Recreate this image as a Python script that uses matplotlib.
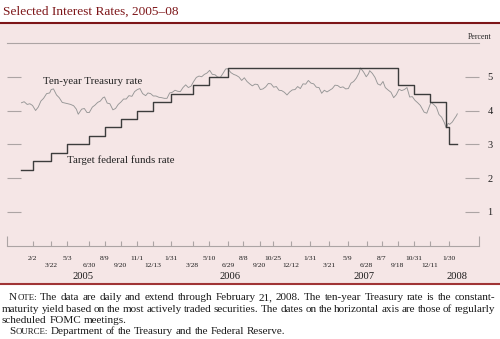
import numpy as np
import pandas as pd
import matplotlib
matplotlib.use("Agg")
import matplotlib.pyplot as plt
from matplotlib.patches import Rectangle
from matplotlib.lines import Line2D
from matplotlib.transforms import IdentityTransform

SERIF = ["Liberation Serif", "DejaVu Serif"]

# --- Datos ---
tsy_dates = [
    "2005-01-03", "2005-01-10", "2005-01-18", "2005-01-25", "2005-02-01", "2005-02-09",
    "2005-02-16", "2005-02-23", "2005-03-02", "2005-03-10", "2005-03-18", "2005-03-22",
    "2005-03-28", "2005-04-05", "2005-04-12", "2005-04-20", "2005-04-28", "2005-05-05",
    "2005-05-12", "2005-05-20", "2005-05-27", "2005-06-01", "2005-06-10", "2005-06-17",
    "2005-06-24", "2005-06-30", "2005-07-08", "2005-07-15", "2005-07-22", "2005-07-29",
    "2005-08-05", "2005-08-09", "2005-08-16", "2005-08-23", "2005-08-31", "2005-09-07",
    "2005-09-14", "2005-09-21", "2005-09-28", "2005-10-05", "2005-10-12", "2005-10-20",
    "2005-10-27", "2005-11-03", "2005-11-10", "2005-11-17", "2005-11-25", "2005-12-01",
    "2005-12-08", "2005-12-15", "2005-12-22", "2005-12-30",
    "2006-01-06", "2006-01-13", "2006-01-20", "2006-01-27", "2006-02-03", "2006-02-10",
    "2006-02-17", "2006-02-24", "2006-03-03", "2006-03-10", "2006-03-17", "2006-03-24",
    "2006-03-31", "2006-04-07", "2006-04-14", "2006-04-21", "2006-04-28", "2006-05-05",
    "2006-05-12", "2006-05-19", "2006-05-26", "2006-06-02", "2006-06-09", "2006-06-16",
    "2006-06-23", "2006-06-28", "2006-07-07", "2006-07-14", "2006-07-21", "2006-07-28",
    "2006-08-04", "2006-08-11", "2006-08-18", "2006-08-25", "2006-09-01", "2006-09-08",
    "2006-09-15", "2006-09-22", "2006-09-29", "2006-10-06", "2006-10-13", "2006-10-20",
    "2006-10-27", "2006-11-03", "2006-11-10", "2006-11-17", "2006-11-24", "2006-12-01",
    "2006-12-08", "2006-12-15", "2006-12-22", "2006-12-29",
    "2007-01-05", "2007-01-12", "2007-01-19", "2007-01-26", "2007-02-02", "2007-02-09",
    "2007-02-16", "2007-02-23", "2007-03-02", "2007-03-09", "2007-03-16", "2007-03-23",
    "2007-03-30", "2007-04-06", "2007-04-13", "2007-04-20", "2007-04-27", "2007-05-04",
    "2007-05-11", "2007-05-18", "2007-05-25", "2007-06-01", "2007-06-08", "2007-06-12",
    "2007-06-20", "2007-06-27", "2007-07-03", "2007-07-06", "2007-07-13", "2007-07-20",
    "2007-07-27", "2007-08-03", "2007-08-10", "2007-08-16", "2007-08-23", "2007-08-31",
    "2007-09-07", "2007-09-14", "2007-09-21", "2007-09-28", "2007-10-05", "2007-10-12",
    "2007-10-19", "2007-10-26", "2007-11-02", "2007-11-09", "2007-11-16", "2007-11-23",
    "2007-11-26", "2007-12-03", "2007-12-10", "2007-12-14", "2007-12-21", "2007-12-28",
    "2008-01-04", "2008-01-11", "2008-01-18", "2008-01-23", "2008-01-28", "2008-02-01",
    "2008-02-08", "2008-02-13", "2008-02-19", "2008-02-21",
]
tsy_rates = [
    4.23, 4.26, 4.18, 4.20, 4.15, 4.00, 4.10, 4.28, 4.36, 4.50, 4.52, 4.62,
    4.64, 4.46, 4.38, 4.24, 4.22, 4.20, 4.18, 4.14, 4.04, 3.89, 4.04, 4.06,
    3.94, 3.94, 4.10, 4.16, 4.24, 4.28, 4.38, 4.40, 4.22, 4.20, 4.02, 4.06,
    4.18, 4.25, 4.34, 4.34, 4.44, 4.42, 4.56, 4.62, 4.65, 4.50, 4.44, 4.52,
    4.50, 4.43, 4.43, 4.39,
    4.38, 4.36, 4.36, 4.52, 4.54, 4.60, 4.57, 4.56, 4.68, 4.76, 4.68, 4.72,
    4.86, 4.98, 5.02, 5.00, 5.07, 5.11, 5.19, 5.07, 5.06, 4.99, 4.98, 5.10,
    5.23, 5.24, 5.12, 5.07, 5.04, 4.99, 4.89, 4.97, 4.86, 4.79, 4.73, 4.78,
    4.77, 4.62, 4.64, 4.70, 4.80, 4.79, 4.69, 4.71, 4.60, 4.59, 4.54, 4.46,
    4.55, 4.61, 4.62, 4.71,
    4.65, 4.79, 4.78, 4.89, 4.81, 4.79, 4.69, 4.68, 4.51, 4.60, 4.55, 4.60,
    4.65, 4.75, 4.74, 4.68, 4.70, 4.64, 4.65, 4.81, 4.86, 4.96, 5.11, 5.26,
    5.14, 5.00, 5.09, 5.18, 5.10, 4.98, 4.79, 4.75, 4.86, 4.68, 4.61, 4.54,
    4.38, 4.47, 4.63, 4.59, 4.62, 4.68, 4.40, 4.41, 4.30, 4.23, 4.15, 4.01,
    3.95, 3.92, 4.13, 4.24, 4.18, 4.10,
    3.88, 3.80, 3.64, 3.48, 3.62, 3.59, 3.66, 3.75, 3.85, 3.90,
]

ff_dates = [
    "2005-01-03", "2005-02-02", "2005-03-22", "2005-05-03", "2005-06-30", "2005-08-09",
    "2005-09-20", "2005-11-01", "2005-12-13", "2006-01-31", "2006-03-28", "2006-05-10",
    "2006-06-29", "2007-09-18", "2007-10-31", "2007-12-11", "2008-01-22", "2008-01-30",
    "2008-02-21",
]
ff_rates = [2.25, 2.50, 2.75, 3.00, 3.25, 3.50, 3.75, 4.00, 4.25, 4.50, 4.75, 5.00,
            5.25, 4.75, 4.50, 4.25, 3.50, 3.00, 3.00]

# fechas FOMC (dos filas de etiquetas)
fomc_row1 = ["2005-02-02", "2005-05-03", "2005-08-09", "2005-11-01", "2006-01-31",
             "2006-05-10", "2006-08-08", "2006-10-25", "2007-01-31", "2007-05-09",
             "2007-08-07", "2007-10-31", "2008-01-30"]
fomc_row2 = ["2005-03-22", "2005-06-30", "2005-09-20", "2005-12-13", "2006-03-28",
             "2006-06-29", "2006-09-20", "2006-12-12", "2007-03-21", "2007-06-28",
             "2007-09-18", "2007-12-11"]
years = ["2005", "2006", "2007", "2008"]
year_anchor = ["2005-06-13", "2006-07-04", "2007-06-20", "2008-02-21"]
y_ticks = [1, 2, 3, 4, 5]

title = "Selected Interest Rates, 2005\u201308"
note_lines = [
    "The data are daily and extend through February 21, 2008. The ten-year Treasury rate is the constant-",
    "maturity yield based on the most actively traded securities. The dates on the horizontal axis are those of regularly",
    "scheduled FOMC meetings.",
]
source_line = "Department of the Treasury and the Federal Reserve."

# --- Figura ---
W, H = 500, 339
fig = plt.figure(figsize=(W / 100, H / 100), dpi=100)
fig.patch.set_facecolor("white")

fig.patches.append(Rectangle((0, 1 - 283 / H), 1, (283 - 23.5) / H, transform=fig.transFigure,
                             facecolor="#f5e6e6", edgecolor="none", zorder=-5))
fig.lines.append(Line2D([0, 1], [1 - 22.5 / H] * 2, transform=fig.transFigure,
                        color="#7d1518", lw=1.5))
fig.lines.append(Line2D([0, 1], [1 - 283.5 / H] * 2, transform=fig.transFigure,
                        color="#a03436", lw=1.5))

fig.text(3 / W, 1 - 14.5 / H, title, fontsize=9.6, family=SERIF, color="#7d1518",
         va="baseline", ha="left")

ax = fig.add_axes([7 / W, 1 - 245.5 / H, 472 / W, (245.5 - 43) / H])
ax.set_facecolor("none")
ax.set_zorder(2)

gray = "#aca4a4"
tsy_x = pd.to_datetime(tsy_dates)
ff_x = pd.to_datetime(ff_dates)
ax.plot(tsy_x, tsy_rates, color="#969696", lw=0.65)
ax.plot(ff_x, ff_rates, color="#3c3c3c", lw=1.0, drawstyle="steps-post")

x_left = pd.Timestamp("2004-11-26")
x_right = pd.Timestamp("2008-04-18")
ax.set_xlim(x_left, x_right)
ax.set_ylim(0, 6)

for s in ["left", "right"]:
    ax.spines[s].set_visible(False)
for s in ["top", "bottom"]:
    ax.spines[s].set_color(gray)
    ax.spines[s].set_linewidth(0.8)

# eje y: marcas a ambos lados, etiquetas a la derecha
ax.set_yticks(y_ticks)
ax.yaxis.set_ticks_position("both")
ax.tick_params(axis="y", direction="in", length=10, width=0.8, color=gray,
               left=True, right=True, labelleft=False, labelright=True, pad=6)
for lab in ax.get_yticklabels():
    lab.set_fontfamily(SERIF)
    lab.set_fontsize(7.5)
    lab.set_color("#222222")

# eje x: fechas FOMC
all_fomc = pd.to_datetime(fomc_row1 + fomc_row2)
ax.set_xticks(all_fomc)
ax.set_xticks([x_left, x_right], minor=True)
ax.tick_params(axis="x", which="major", direction="in", length=3.6, width=0.8,
               color=gray, labelbottom=False)
ax.tick_params(axis="x", which="minor", direction="in", length=7.5, width=0.8,
               color=gray, labelbottom=False)

xt = ax.get_xaxis_transform()
for d in pd.to_datetime(fomc_row1):
    ax.text(d, -0.062, f"{d.month}/{d.day}", transform=xt, ha="center", va="center",
            fontsize=5.4, family=SERIF, color="#1a1a1a")
for d in pd.to_datetime(fomc_row2):
    ax.text(d, -0.101, f"{d.month}/{d.day}", transform=xt, ha="center", va="center",
            fontsize=5.4, family=SERIF, color="#1a1a1a")
for yl, d in zip(years, pd.to_datetime(year_anchor)):
    ax.text(d, -0.151, yl, transform=xt, ha="center", va="center",
            fontsize=7.6, family=SERIF, color="#1a1a1a")

ax.text(1.002, 1.032, "Percent", transform=ax.transAxes, ha="center", va="center",
        fontsize=5.7, family=SERIF, color="#222222")

ax.text(0.0763, 0.812, "Ten-year Treasury rate", transform=ax.transAxes, ha="left",
        va="center", fontsize=7.8, family=SERIF, color="#222222")
ax.text(0.127, 0.422, "Target federal funds rate", transform=ax.transAxes, ha="left",
        va="center", fontsize=7.8, family=SERIF, color="#222222")

# --- Nota al pie (justificada) ---
renderer = fig.canvas.get_renderer()
FS = 8.0
FS_SC = 6.4


def text_width(s, size):
    t = fig.text(0, 0, s, fontsize=size, family=SERIF, transform=IdentityTransform())
    w = t.get_window_extent(renderer).width
    t.remove()
    return w


def put_line(y, x0, x1, words, justify):
    widths = [sum(text_width(s, sz) for s, sz in w) for w in words]
    if justify:
        gap = (x1 - x0 - sum(widths)) / (len(words) - 1)
    else:
        gap = text_width("a b", FS) - text_width("ab", FS)
    x = x0
    for w, wd in zip(words, widths):
        for s, sz in w:
            fig.text(x, y, s, fontsize=sz, family=SERIF, transform=IdentityTransform(),
                     va="baseline", ha="left", color="#1a1a1a")
            x += text_width(s, sz)
        x += gap


def words_of(line):
    return [[(w, FS)] for w in line.split(" ")]


put_line(H - 300, 9, 495, [[("N", FS), ("OTE:", FS_SC)]] + words_of(note_lines[0]), True)
put_line(H - 311.5, 2, 495, words_of(note_lines[1]), True)
put_line(H - 323, 2, 495, words_of(note_lines[2]), False)
put_line(H - 334.5, 9, 495, [[("S", FS), ("OURCE:", FS_SC)]] + words_of(source_line), False)

fig.savefig("out.png", dpi=100)
